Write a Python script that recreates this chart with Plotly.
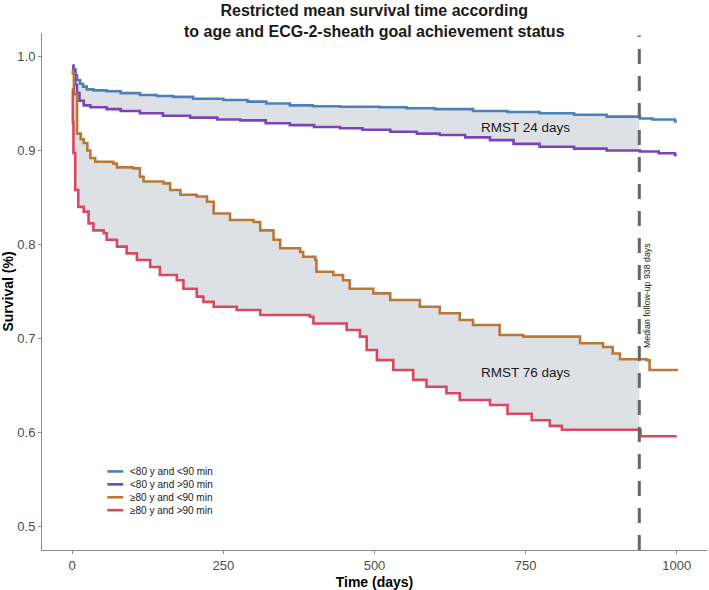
import plotly.graph_objects as go

# ---- data ----
blue_t = [0, 2, 5, 8, 13, 18, 24, 35, 57, 80, 112, 140, 167, 200, 250, 290, 321, 360, 398, 443, 508, 553, 600, 663, 720, 773, 830, 884, 939, 960, 997, 1000]
blue_s = [0.99, 0.986, 0.98, 0.975, 0.971, 0.968, 0.965, 0.964, 0.963, 0.961, 0.959, 0.958, 0.957, 0.955, 0.9537, 0.952, 0.950, 0.948, 0.947, 0.9465, 0.946, 0.945, 0.944, 0.942, 0.941, 0.9396, 0.938, 0.936, 0.934, 0.933, 0.931, 0.931]

purple_t = [0, 2, 5, 8, 12, 19, 30, 57, 80, 112, 150, 195, 240, 278, 320, 360, 400, 443, 480, 526, 570, 608, 650, 691, 730, 773, 830, 884, 939, 970, 997, 1000]
purple_s = [0.99, 0.986, 0.97, 0.961, 0.953, 0.948, 0.946, 0.944, 0.942, 0.9396, 0.937, 0.935, 0.933, 0.932, 0.929, 0.927, 0.925, 0.9236, 0.922, 0.920, 0.918, 0.9165, 0.914, 0.911, 0.907, 0.904, 0.902, 0.900, 0.899, 0.897, 0.8952, 0.8952]

orange_t = [0, 1, 3, 8, 14, 19, 25, 30, 38, 68, 74, 101, 112, 118, 151, 162, 179, 206, 223, 234, 261, 300, 311, 333, 344, 377, 382, 402, 404, 432, 448, 459, 498, 526, 575, 608, 641, 663, 707, 746, 834, 840, 878, 894, 906, 950, 955, 1000]
orange_s = [0.985, 0.982, 0.96, 0.918, 0.912, 0.908, 0.90, 0.892, 0.888, 0.886, 0.882, 0.881, 0.872, 0.867, 0.865, 0.858, 0.853, 0.851, 0.8455, 0.833, 0.826, 0.824, 0.815, 0.805, 0.796, 0.792, 0.787, 0.7835, 0.771, 0.7676, 0.762, 0.753, 0.748, 0.741, 0.7338, 0.7268, 0.7197, 0.7144, 0.7037, 0.702, 0.702, 0.695, 0.691, 0.684, 0.678, 0.677, 0.6665, 0.6654]

red_t = [0, 1, 2, 5, 10, 19, 27, 35, 52, 57, 74, 90, 107, 129, 145, 173, 184, 206, 217, 234, 272, 311, 393, 399, 454, 476, 487, 504, 531, 564, 586, 619, 641, 691, 720, 760, 790, 810, 940, 1000]
red_s = [0.965, 0.93, 0.897, 0.858, 0.840, 0.835, 0.8225, 0.815, 0.812, 0.805, 0.7977, 0.7906, 0.7835, 0.776, 0.7676, 0.762, 0.753, 0.7445, 0.739, 0.7338, 0.7303, 0.725, 0.7232, 0.716, 0.709, 0.702, 0.6878, 0.677, 0.6665, 0.656, 0.6487, 0.6417, 0.6346, 0.6293, 0.62, 0.613, 0.607, 0.603, 0.596, 0.596]

group_names = ["<80 y and <90 min", "<80 y and >90 min", "\u226580 y and <90 min", "\u226580 y and >90 min"]
group_colors = ["#4a82b8", "#7a44b8", "#b87838", "#d94860"]

x_ticks = [0, 250, 500, 750, 1000]
y_ticks = [0.5, 0.6, 0.7, 0.8, 0.9, 1.0]
y_tick_labels = ["0.5", "0.6", "0.7", "0.8", "0.9", "1.0"]

median_followup = 938
rmst_labels = ["RMST 24 days", "RMST 76 days"]
rmst_pos = [(749, 0.925), (749, 0.664)]
followup_label = "Median follow-up 938 days"
followup_pos = (952, 0.746)

title_text = "<b>Restricted mean survival time according<br>to age and ECG-2-sheath goal achievement status</b>"
fill_color = "#dde1e6"
FONT = "Liberation Sans, Arial, sans-serif"


def truncate(t, s, cut):
    tt, ss = [], []
    for a, b in zip(t, s):
        if a < cut:
            tt.append(a)
            ss.append(b)
    tt.append(cut)
    ss.append(ss[-1])
    return tt, ss


fig = go.Figure()

# shaded RMST areas
for (ut, us), (lt, ls) in [((blue_t, blue_s), (purple_t, purple_s)),
                           ((orange_t, orange_s), (red_t, red_s))]:
    a_t, a_s = truncate(ut, us, median_followup)
    b_t, b_s = truncate(lt, ls, median_followup)
    fig.add_trace(go.Scatter(x=a_t, y=a_s, mode="lines", line=dict(width=0, shape="hv"),
                             showlegend=False, hoverinfo="skip"))
    fig.add_trace(go.Scatter(x=b_t, y=b_s, mode="lines", line=dict(width=0, shape="hv"),
                             fill="tonexty", fillcolor=fill_color, showlegend=False, hoverinfo="skip"))

for name, col, t, s in zip(group_names, group_colors,
                           [blue_t, purple_t, orange_t, red_t],
                           [blue_s, purple_s, orange_s, red_s]):
    fig.add_trace(go.Scatter(x=t, y=s, mode="lines", name=name, showlegend=False,
                             line=dict(color=col, width=2.6, shape="hv")))

fig.add_shape(type="line", xref="x", yref="paper", x0=median_followup, x1=median_followup,
              y0=0, y1=0.995, line=dict(color="#666666", width=3, dash="15px,12px"))

for txt, (px, py) in zip(rmst_labels, rmst_pos):
    fig.add_annotation(x=px, y=py, text=txt, showarrow=False,
                       font=dict(family=FONT, size=13.5, color="#1a1a1a"))

fig.add_annotation(x=followup_pos[0], y=followup_pos[1], text=followup_label, textangle=-90,
                   showarrow=False, font=dict(family=FONT, size=8.8, color="#1a1a1a"))

# title
fig.add_annotation(xref="paper", yref="paper", x=0.5, y=1, yanchor="bottom", yshift=-9,
                   text=title_text, showarrow=False, align="center",
                   font=dict(family=FONT, size=16, color="#1a1a1a"))

# manual legend (compact, inside the panel)
leg_x0, leg_x1, leg_tx = 0.0982, 0.1222, 0.1297
leg_y = [0.152, 0.127, 0.102, 0.077]
for name, col, yy in zip(group_names, group_colors, leg_y):
    fig.add_shape(type="line", xref="paper", yref="paper", x0=leg_x0, x1=leg_x1, y0=yy, y1=yy,
                  line=dict(color=col, width=2.6))
    fig.add_annotation(xref="paper", yref="paper", x=leg_tx, y=yy, xanchor="left", yanchor="middle",
                       text=name, showarrow=False, font=dict(family=FONT, size=10, color="#1a1a1a"))

axis_common = dict(showline=True, linecolor="#8c8c8c", linewidth=1, ticks="outside",
                   ticklen=3, tickcolor="#8c8c8c", showgrid=False, zeroline=False, automargin=False,
                   tickfont=dict(family=FONT, size=13, color="#4d4d4d"))

fig.update_layout(
    width=709, height=590,
    margin=dict(l=42, r=2, t=33, b=40),
    paper_bgcolor="white", plot_bgcolor="white",
    xaxis=dict(range=[-50, 1050], tickvals=x_ticks,
               title=dict(text="<b>Time (days)</b>", standoff=6,
                          font=dict(family=FONT, size=14, color="black")),
               **axis_common),
    yaxis=dict(range=[0.475, 1.025], tickvals=y_ticks, ticktext=y_tick_labels,
               title=dict(text="<b>Survival (%)</b>", standoff=6,
                          font=dict(family=FONT, size=14, color="black")),
               **axis_common),
    showlegend=False,
)

fig.write_html("out.html", config={"displayModeBar": False},
               post_script="document.body.style.margin='0';")
